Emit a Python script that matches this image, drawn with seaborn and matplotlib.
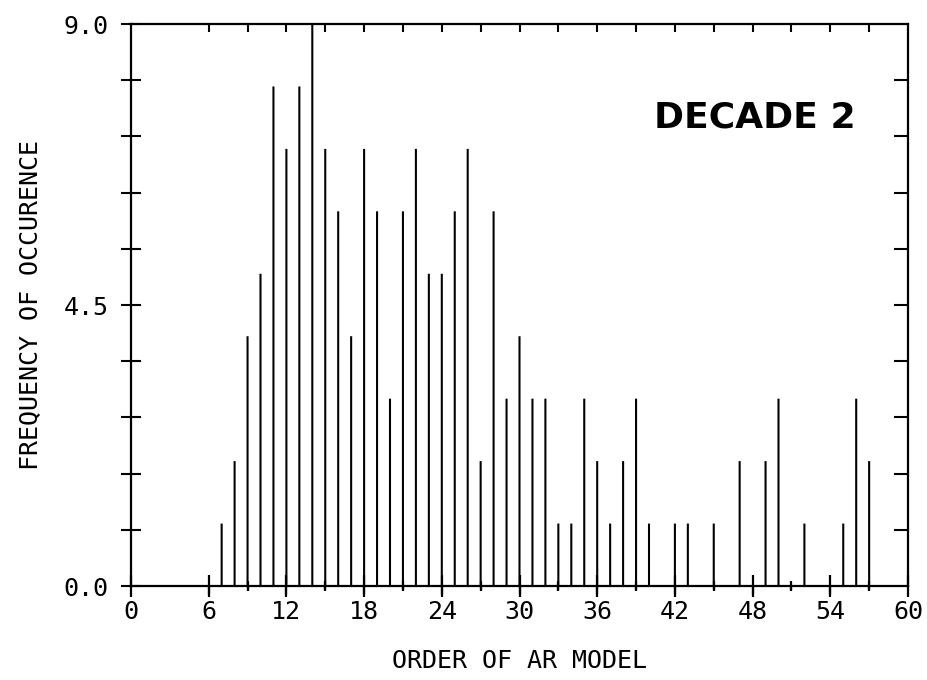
import matplotlib
matplotlib.use("Agg")
import matplotlib.pyplot as plt
import seaborn as sns
import pandas as pd

# ---- data ----
orders = [7, 8, 9, 10, 11, 12, 13, 14, 15, 16, 17, 18, 19, 20, 21, 22,
          23, 24, 25, 26, 27, 28, 29, 30, 31, 32, 33, 34, 35, 36, 37, 38,
          39, 40, 42, 43, 45, 47, 49, 50, 52, 55, 56, 57]
freqs = [1, 2, 4, 5, 8, 7, 8, 9, 7, 6, 4, 7, 6, 3, 6, 7,
         5, 5, 6, 7, 2, 6, 3, 4, 3, 3, 1, 1, 3, 2, 1, 2,
         3, 1, 1, 1, 1, 2, 2, 3, 1, 1, 3, 2]
x_ticks = [0, 6, 12, 18, 24, 30, 36, 42, 48, 54, 60]
y_ticks = [0.0, 4.5, 9.0]
y_tick_labels = ["0.0", "4.5", "9.0"]
x_label = "ORDER OF AR MODEL"
y_label = "FREQUENCY OF OCCURENCE"
panel_title = "DECADE 2"

sns.set_style("white")
plt.rcParams["font.family"] = ["DejaVu Sans Mono", "DejaVu Sans"]
plt.rcParams["text.color"] = "black"
plt.rcParams["axes.labelcolor"] = "black"
plt.rcParams["xtick.color"] = "black"
plt.rcParams["ytick.color"] = "black"
plt.rcParams["xtick.bottom"] = True
plt.rcParams["ytick.left"] = True

df = pd.DataFrame({"order": orders, "freq": freqs})

fig = plt.figure(figsize=(9.28, 6.8), dpi=100)
ax = fig.add_axes([131 / 928, 1 - 586 / 680, 777 / 928, 562 / 680])

sns.barplot(data=df, x="order", y="freq", native_scale=True, width=0.16,
            color="black", saturation=1, errorbar=None, ax=ax,
            linewidth=0)
for p in ax.patches:
    p.set_snap(False)
    p.set_antialiased(True)

ax.set_xlim(0, 60)
ax.set_ylim(0, 9)

for s in ax.spines.values():
    s.set_linewidth(1.6)
    s.set_color("black")
    s.set_visible(True)
    s.set_zorder(5)

# bottom x ticks (inner half + labels)
ax.set_xticks(x_ticks)
ax.set_xticklabels([str(v) for v in x_ticks])
ax.set_xticks([v for v in range(9, 60, 6)], minor=True)
ax.tick_params(axis="x", which="major", direction="inout", length=16,
               width=1.6, labelsize=18, pad=2, bottom=True, top=False,
               color="black")
ax.tick_params(axis="x", which="minor", direction="inout", length=7,
               width=1.6, bottom=True, top=False, color="black")

# left y ticks (every 0.9)
ax.set_yticks(y_ticks)
ax.set_yticklabels(y_tick_labels)
ax.set_yticks([round(0.9 * i, 1) for i in range(1, 10) if i != 5], minor=True)
ax.tick_params(axis="y", which="both", direction="inout", length=14,
               width=1.5, labelsize=18, pad=9, left=True, right=False,
               colors="black")

# top / right inward ticks on a transparent overlay axes
ov = fig.add_axes(ax.get_position(), frameon=False)
ov.patch.set_visible(False)
ov.set_xlim(0, 60)
ov.set_ylim(0, 9)
ov.set_xticks(list(range(6, 60, 3)))
ov.set_yticks([round(0.9 * i, 1) for i in range(1, 10)])
ov.tick_params(axis="x", direction="in", length=6, width=1.5, top=True,
               bottom=False, labeltop=False, labelbottom=False, color="black")
ov.tick_params(axis="y", direction="in", length=10, width=1.5, right=True,
               left=False, labelright=False, labelleft=False, color="black")

# outer half of the bottom ticks on a second overlay
ob = fig.add_axes(ax.get_position(), frameon=False)
ob.patch.set_visible(False)
ob.set_xlim(0, 60)
ob.set_ylim(0, 9)
ob.set_xticks(x_ticks[1:-1])
ob.set_xticks([v for v in range(9, 60, 6)], minor=True)
ob.set_yticks([])
ob.tick_params(axis="x", which="major", direction="out", length=6,
               width=1.6, bottom=True, top=False, labelbottom=False,
               color="black")
ob.tick_params(axis="x", which="minor", direction="out", length=3,
               width=1.6, bottom=True, top=False, labelbottom=False,
               color="black")

ax.set_xlabel(x_label, fontsize=18, labelpad=18)
ax.set_ylabel(y_label, fontsize=18, labelpad=16)

ax.text(0.803, 0.833, panel_title, transform=ax.transAxes,
        ha="center", va="center", fontsize=26, fontweight="bold",
        family="DejaVu Sans", color="black")

fig.savefig("out.png", dpi=100, facecolor="white")
